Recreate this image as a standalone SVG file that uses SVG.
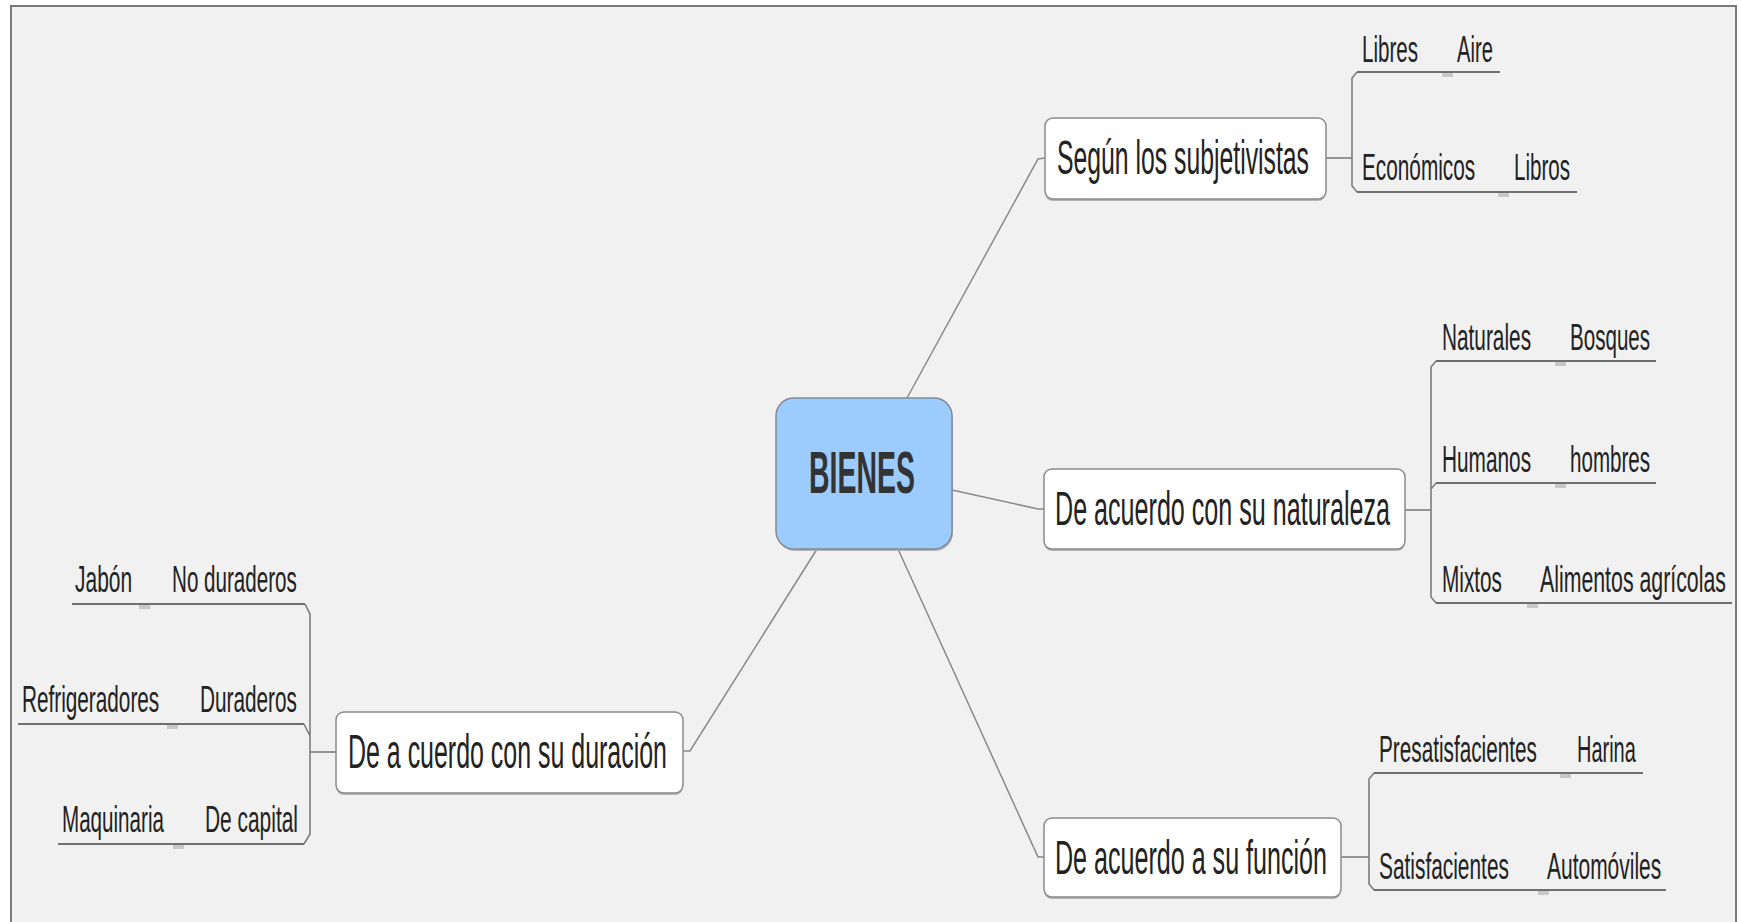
<svg xmlns="http://www.w3.org/2000/svg" width="1741" height="922" viewBox="0 0 1741 922">
<defs>
<style>
.frame{fill:#f1f1f1;stroke:#7a7a7a;stroke-width:2}
.node rect.box{fill:#ffffff;stroke:#8a8a8a;stroke-width:1.5}
.node rect.shadow{fill:#b5b5b5}
.root rect.box{fill:#9ccbfd;stroke:#7f8a96;stroke-width:1.5}
.t{font-family:"Liberation Sans",Arial,sans-serif;fill:#222}
.main{font-size:49px}
.rt{font-size:60px;font-weight:bold;fill:#333}
.sub{font-size:37px}
.ul{stroke:#6f6f6f;stroke-width:2.2;fill:none}
.br{stroke:#7d7d7d;stroke-width:1.6;fill:none}
.cn{stroke:#8a8a8a;stroke-width:1.5;fill:none}
.notch{fill:#c8c8c8}
</style>
</defs>
<rect x="0" y="0" width="1741" height="922" fill="#ffffff"/>
<rect class="frame" x="11" y="6" width="1725" height="930"/>

<g id="connectors">
<path class="cn" d="M907,398 L1038,159 L1045,158"/>
<path class="cn" d="M952,490 L1038,509 L1044,509"/>
<path class="cn" d="M898,549 L1038,857 L1044,857"/>
<path class="cn" d="M817,549 L690,751 L683,751"/>
<path class="br" d="M1326,158 H1352"/>
<path class="br" d="M1357,72 L1352,78 V186 L1357,192"/>
<path class="br" d="M1405,510 H1431"/>
<path class="br" d="M1436,361 L1431,367 V597 L1436,603 M1436,483 L1431,489"/>
<path class="br" d="M1341,857 H1369"/>
<path class="br" d="M1374,773 L1369,779 V884 L1374,890"/>
<path class="br" d="M310,752 H336"/>
<path class="br" d="M305,604 L310,614 V834 L304,844 M304,724 L310,736"/>
</g>

<g id="root" class="root node">
<rect class="shadow" x="777" y="401" width="176" height="150" rx="18"/>
<rect class="box" x="776" y="398" width="176" height="151" rx="18"/>
<text class="t rt" transform="translate(809,493) scale(0.475,1)" x="0" y="0" textLength="223" lengthAdjust="spacingAndGlyphs">BIENES</text>
</g>

<g id="n-subjetivistas" class="node">
<rect class="shadow" x="1045" y="120" width="281" height="81" rx="8"/>
<rect class="box" x="1045" y="118" width="281" height="81" rx="8"/>
<text class="t main" transform="translate(1057,174) scale(0.5,1)" x="0" y="0" textLength="504" lengthAdjust="spacingAndGlyphs">Según los subjetivistas</text>
</g>

<g id="n-naturaleza" class="node">
<rect class="shadow" x="1044" y="471" width="361" height="80" rx="8"/>
<rect class="box" x="1044" y="469" width="361" height="80" rx="8"/>
<text class="t main" transform="translate(1055,525) scale(0.5,1)" x="0" y="0" textLength="670" lengthAdjust="spacingAndGlyphs">De acuerdo con su naturaleza</text>
</g>

<g id="n-funcion" class="node">
<rect class="shadow" x="1044" y="820" width="297" height="79" rx="8"/>
<rect class="box" x="1044" y="818" width="297" height="79" rx="8"/>
<text class="t main" transform="translate(1055,874) scale(0.5,1)" x="0" y="0" textLength="544" lengthAdjust="spacingAndGlyphs">De acuerdo a su función</text>
</g>

<g id="n-duracion" class="node">
<rect class="shadow" x="336" y="714" width="347" height="81" rx="8"/>
<rect class="box" x="336" y="712" width="347" height="81" rx="8"/>
<text class="t main" transform="translate(348,768) scale(0.5,1)" x="0" y="0" textLength="638" lengthAdjust="spacingAndGlyphs">De a cuerdo con su duración</text>
</g>

<g id="s-libres">
<path class="ul" d="M1357,72 H1500"/>
<rect class="notch" x="1442" y="73" width="11" height="4"/>
<text class="t sub" transform="translate(1362,62) scale(0.56,1)" x="0" y="0" textLength="100" lengthAdjust="spacingAndGlyphs">Libres</text>
<text class="t sub" transform="translate(1457,62) scale(0.56,1)" x="0" y="0" textLength="64" lengthAdjust="spacingAndGlyphs">Aire</text>
</g>
<g id="s-economicos">
<path class="ul" d="M1357,192 H1577"/>
<rect class="notch" x="1498" y="193" width="11" height="4"/>
<text class="t sub" transform="translate(1362,180) scale(0.56,1)" x="0" y="0" textLength="202" lengthAdjust="spacingAndGlyphs">Económicos</text>
<text class="t sub" transform="translate(1514,180) scale(0.56,1)" x="0" y="0" textLength="100" lengthAdjust="spacingAndGlyphs">Libros</text>
</g>

<g id="s-naturales">
<path class="ul" d="M1436,361 H1656"/>
<rect class="notch" x="1555" y="362" width="11" height="4"/>
<text class="t sub" transform="translate(1442,350) scale(0.56,1)" x="0" y="0" textLength="159" lengthAdjust="spacingAndGlyphs">Naturales</text>
<text class="t sub" transform="translate(1570,350) scale(0.56,1)" x="0" y="0" textLength="143" lengthAdjust="spacingAndGlyphs">Bosques</text>
</g>
<g id="s-humanos">
<path class="ul" d="M1436,483 H1656"/>
<rect class="notch" x="1555" y="484" width="11" height="4"/>
<text class="t sub" transform="translate(1442,472) scale(0.56,1)" x="0" y="0" textLength="159" lengthAdjust="spacingAndGlyphs">Humanos</text>
<text class="t sub" transform="translate(1570,472) scale(0.56,1)" x="0" y="0" textLength="143" lengthAdjust="spacingAndGlyphs">hombres</text>
</g>
<g id="s-mixtos">
<path class="ul" d="M1436,603 H1732"/>
<rect class="notch" x="1527" y="604" width="11" height="4"/>
<text class="t sub" transform="translate(1442,592) scale(0.56,1)" x="0" y="0" textLength="107" lengthAdjust="spacingAndGlyphs">Mixtos</text>
<text class="t sub" transform="translate(1540,592) scale(0.56,1)" x="0" y="0" textLength="332" lengthAdjust="spacingAndGlyphs">Alimentos agrícolas</text>
</g>

<g id="s-presatisfacientes">
<path class="ul" d="M1374,773 H1643"/>
<rect class="notch" x="1560" y="774" width="11" height="4"/>
<text class="t sub" transform="translate(1379,762) scale(0.56,1)" x="0" y="0" textLength="282" lengthAdjust="spacingAndGlyphs">Presatisfacientes</text>
<text class="t sub" transform="translate(1577,762) scale(0.56,1)" x="0" y="0" textLength="105" lengthAdjust="spacingAndGlyphs">Harina</text>
</g>
<g id="s-satisfacientes">
<path class="ul" d="M1374,890 H1666"/>
<rect class="notch" x="1538" y="891" width="11" height="4"/>
<text class="t sub" transform="translate(1379,879) scale(0.56,1)" x="0" y="0" textLength="232" lengthAdjust="spacingAndGlyphs">Satisfacientes</text>
<text class="t sub" transform="translate(1547,879) scale(0.56,1)" x="0" y="0" textLength="204" lengthAdjust="spacingAndGlyphs">Automóviles</text>
</g>

<g id="s-noduraderos">
<path class="ul" d="M72,604 H305"/>
<rect class="notch" x="139" y="605" width="11" height="4"/>
<text class="t sub" transform="translate(75,592) scale(0.56,1)" x="0" y="0" textLength="102" lengthAdjust="spacingAndGlyphs">Jabón</text>
<text class="t sub" transform="translate(172,592) scale(0.56,1)" x="0" y="0" textLength="223" lengthAdjust="spacingAndGlyphs">No duraderos</text>
</g>
<g id="s-duraderos">
<path class="ul" d="M18,724 H304"/>
<rect class="notch" x="167" y="725" width="11" height="4"/>
<text class="t sub" transform="translate(22,712) scale(0.56,1)" x="0" y="0" textLength="245" lengthAdjust="spacingAndGlyphs">Refrigeradores</text>
<text class="t sub" transform="translate(200,712) scale(0.56,1)" x="0" y="0" textLength="173" lengthAdjust="spacingAndGlyphs">Duraderos</text>
</g>
<g id="s-capital">
<path class="ul" d="M58,844 H304"/>
<rect class="notch" x="173" y="845" width="11" height="4"/>
<text class="t sub" transform="translate(62,832) scale(0.56,1)" x="0" y="0" textLength="182" lengthAdjust="spacingAndGlyphs">Maquinaria</text>
<text class="t sub" transform="translate(205,832) scale(0.56,1)" x="0" y="0" textLength="166" lengthAdjust="spacingAndGlyphs">De capital</text>
</g>
</svg>
